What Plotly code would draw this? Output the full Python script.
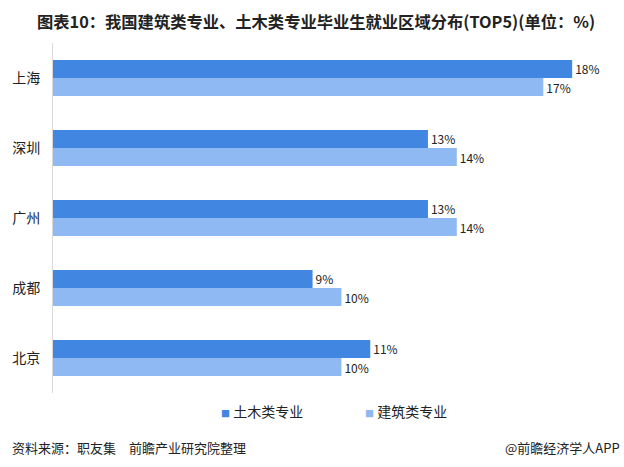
import plotly.graph_objects as go

cities = ["上海", "深圳", "广州", "成都", "北京"]
civil = [18, 13, 13, 9, 11]
arch = [17, 14, 14, 10, 10]
series_names = ["土木类专业", "建筑类专业"]
colors = ["#4186E0", "#8FB9F2"]

FONT = "Noto Sans CJK SC, Microsoft YaHei, sans-serif"

fig = go.Figure()
for name, vals, col in zip(series_names, [civil, arch], colors):
    fig.add_trace(go.Bar(
        y=cities, x=vals, name=name, orientation="h",
        marker=dict(color=col, line=dict(width=0)),
        text=[f"{v}%" for v in vals], textposition="outside",
        textfont=dict(size=12, color="#222", family=FONT),
        cliponaxis=False, showlegend=False,
    ))

W = 552.0
H = 350.0
def px(x):
    return (x - 49) / W
def py(y):
    return (393 - y) / H

fig.update_layout(
    width=624, height=467,
    margin=dict(l=49, r=23, t=43, b=74),
    paper_bgcolor="white", plot_bgcolor="white",
    barmode="group", bargap=0.485, bargroupgap=0,
    font=dict(family=FONT, color="#222"),
    xaxis=dict(range=[0, 19], showgrid=False, zeroline=False,
               showticklabels=False, showline=False),
    yaxis=dict(categoryorder="array", categoryarray=cities, autorange="reversed",
               showgrid=False, showline=True, linecolor="#D9D9D9", linewidth=1,
               ticks="", tickfont=dict(size=14, color="#222", family=FONT),
               ticklabelstandoff=9),
    annotations=[
        dict(text="<b>图表10：我国建筑类专业、土木类专业毕业生就业区域分布(TOP5)(单位：%)</b>",
             xref="paper", yref="paper", x=px(31), y=py(21), xanchor="left", yanchor="middle",
             showarrow=False, font=dict(size=16.3, color="#222", family=FONT)),
        dict(text=f"<span style='color:{colors[0]};font-size:9px'>■</span> {series_names[0]}",
             xref="paper", yref="paper", x=px(216), y=py(411),
             xanchor="left", yanchor="middle", showarrow=False,
             font=dict(size=14, color="#222", family=FONT)),
        dict(text=f"<span style='color:{colors[1]};font-size:9px'>■</span> {series_names[1]}",
             xref="paper", yref="paper", x=px(361), y=py(411),
             xanchor="left", yanchor="middle", showarrow=False,
             font=dict(size=14, color="#222", family=FONT)),
        dict(text="资料来源：职友集　前瞻产业研究院整理",
             xref="paper", yref="paper", x=px(6), y=py(447),
             xanchor="left", yanchor="middle", showarrow=False,
             font=dict(size=13, color="#222", family=FONT)),
        dict(text="@前瞻经济学人APP",
             xref="paper", yref="paper", x=px(622), y=py(447),
             xanchor="right", yanchor="middle", showarrow=False,
             font=dict(size=13, color="#222", family=FONT)),
    ],
)

fig.write_html("out.html")
